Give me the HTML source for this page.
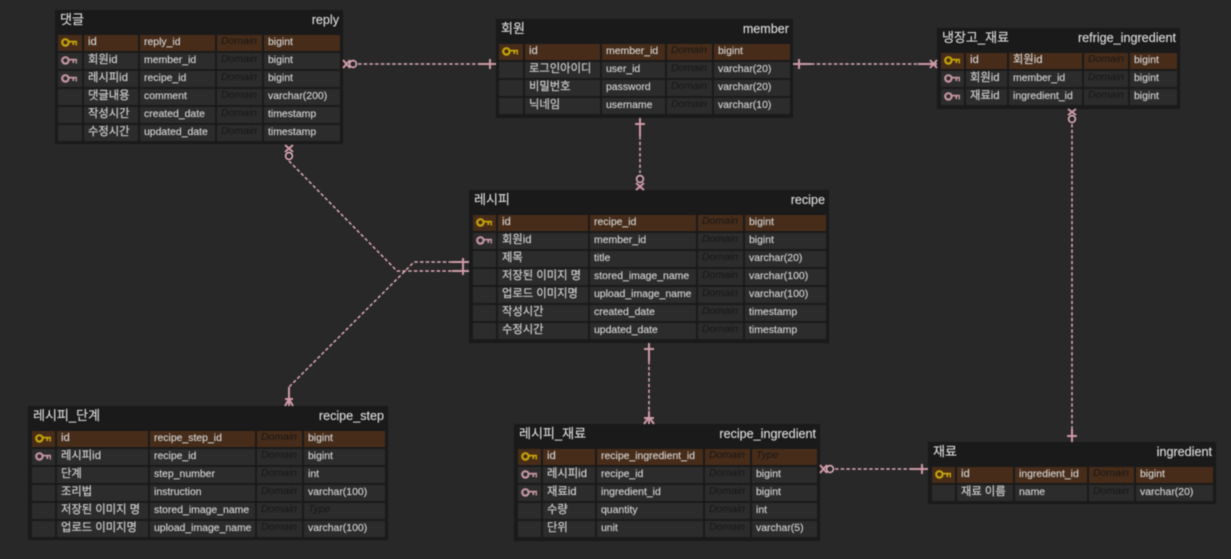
<!DOCTYPE html>
<html lang="ko">
<head>
<meta charset="utf-8">
<title>ERD</title>
<style>
html,body{margin:0;padding:0;background:#282828;}
body{width:1231px;height:559px;overflow:hidden;position:relative;}
#w{position:absolute;left:0;top:0;width:1231px;height:559px;filter:blur(.5px);font-family:"Liberation Sans","Noto Sans CJK KR",sans-serif;color:#d2d2d2;font-size:10.45px;-webkit-text-stroke:.15px #d2d2d2;}
.t{position:absolute;background:#1a1a1a;box-sizing:border-box;}
.h{position:absolute;left:5px;top:1px;font-size:13px;line-height:18px;color:#dcdcdc;white-space:nowrap;}
.e{position:absolute;right:4px;top:1px;font-size:12.6px;line-height:18px;color:#dcdcdc;white-space:nowrap;}
.r{position:absolute;height:16px;display:grid;column-gap:2px;}
.r>div{height:16px;background:#2c2c2c;line-height:15px;padding-left:4px;box-sizing:border-box;white-space:nowrap;overflow:visible;}
.r>div:first-child{padding:0;position:relative;}
.r>div:nth-child(2){font-size:11.3px;line-height:14px;}
.p>div{background:#472c19;}
.r>div.d{color:#171717;-webkit-text-stroke:0;font-style:italic;padding-left:4px;line-height:14px;}
.k{position:absolute;left:3px;top:3px;width:16px;height:9px;}
svg#c{position:absolute;left:0;top:0;}
.s1{grid-template-columns:24px 54px 75px 45px 76px;left:3px;}
.s2{grid-template-columns:24px 75px 63px 45px 76px;left:3px;}
.s3{grid-template-columns:23px 41px 73px 44px 47px;left:4px;}
.s4{grid-template-columns:23px 90px 106px 45px 81px;left:4px;}
.s5{grid-template-columns:23px 91px 105px 45px 81px;left:4px;}
.s6{grid-template-columns:23px 52px 106px 45px 65px;left:4px;}
.s7{grid-template-columns:23px 56px 72px 45px 77px;left:4px;}
</style>
</head>
<body>
<div id="w">
<svg width="0" height="0" style="position:absolute">
<symbol id="ky" viewBox="0 0 16 9"><circle cx="4.4" cy="4.4" r="3.2" fill="none" stroke="#c4a30a" stroke-width="2.2"/><path d="M7.5 3.6H15.5V7.5M12.3 3.6V7" fill="none" stroke="#c4a30a" stroke-width="1.8"/></symbol>
<symbol id="kp" viewBox="0 0 16 9"><circle cx="4.4" cy="4.4" r="3.2" fill="none" stroke="#c294a0" stroke-width="2.2"/><path d="M7.5 3.6H15.5V7.5M12.3 3.6V7" fill="none" stroke="#c294a0" stroke-width="1.8"/></symbol>
</svg>

<!-- reply -->
<div class="t" style="left:55px;top:10px;width:288px;height:134px">
<div class="h">댓글</div><div class="e">reply</div>
<div class="r p s1" style="top:25px"><div><svg class="k"><use href="#ky"/></svg></div><div>id</div><div>reply_id</div><div class="d">Domain</div><div>bigint</div></div>
<div class="r s1" style="top:43px"><div><svg class="k"><use href="#kp"/></svg></div><div>회원id</div><div>member_id</div><div class="d">Domain</div><div>bigint</div></div>
<div class="r s1" style="top:61px"><div><svg class="k"><use href="#kp"/></svg></div><div>레시피id</div><div>recipe_id</div><div class="d">Domain</div><div>bigint</div></div>
<div class="r s1" style="top:79px"><div></div><div>댓글내용</div><div>comment</div><div class="d">Domain</div><div>varchar(200)</div></div>
<div class="r s1" style="top:97px"><div></div><div>작성시간</div><div>created_date</div><div class="d">Domain</div><div>timestamp</div></div>
<div class="r s1" style="top:115px"><div></div><div>수정시간</div><div>updated_date</div><div class="d">Domain</div><div>timestamp</div></div>
</div>

<!-- member -->
<div class="t" style="left:496px;top:19px;width:297px;height:99px">
<div class="h">회원</div><div class="e">member</div>
<div class="r p s2" style="top:25px"><div><svg class="k"><use href="#ky"/></svg></div><div>id</div><div>member_id</div><div class="d">Domain</div><div>bigint</div></div>
<div class="r s2" style="top:43px"><div></div><div>로그인아이디</div><div>user_id</div><div class="d">Domain</div><div>varchar(20)</div></div>
<div class="r s2" style="top:61px"><div></div><div>비밀번호</div><div>password</div><div class="d">Domain</div><div>varchar(20)</div></div>
<div class="r s2" style="top:79px"><div></div><div>닉네임</div><div>username</div><div class="d">Domain</div><div>varchar(10)</div></div>
</div>

<!-- refrige_ingredient -->
<div class="t" style="left:937px;top:28px;width:243px;height:81px">
<div class="h">냉장고_재료</div><div class="e">refrige_ingredient</div>
<div class="r p s3" style="top:25px"><div><svg class="k"><use href="#ky"/></svg></div><div>id</div><div style="font-size:11.3px;line-height:14px">회원id</div><div class="d">Domain</div><div>bigint</div></div>
<div class="r s3" style="top:43px"><div><svg class="k"><use href="#kp"/></svg></div><div>회원id</div><div>member_id</div><div class="d">Domain</div><div>bigint</div></div>
<div class="r s3" style="top:61px"><div><svg class="k"><use href="#kp"/></svg></div><div>재료id</div><div>ingredient_id</div><div class="d">Domain</div><div>bigint</div></div>
</div>

<!-- recipe -->
<div class="t" style="left:469px;top:190px;width:360px;height:153px">
<div class="h">레시피</div><div class="e">recipe</div>
<div class="r p s4" style="top:25px"><div><svg class="k"><use href="#ky"/></svg></div><div>id</div><div>recipe_id</div><div class="d">Domain</div><div>bigint</div></div>
<div class="r s4" style="top:43px"><div><svg class="k"><use href="#kp"/></svg></div><div>회원id</div><div>member_id</div><div class="d">Domain</div><div>bigint</div></div>
<div class="r s4" style="top:61px"><div></div><div>제목</div><div>title</div><div class="d">Domain</div><div>varchar(20)</div></div>
<div class="r s4" style="top:79px"><div></div><div>저장된 이미지 명</div><div>stored_image_name</div><div class="d">Domain</div><div>varchar(100)</div></div>
<div class="r s4" style="top:97px"><div></div><div>업로드 이미지명</div><div>upload_image_name</div><div class="d">Domain</div><div>varchar(100)</div></div>
<div class="r s4" style="top:115px"><div></div><div>작성시간</div><div>created_date</div><div class="d">Domain</div><div>timestamp</div></div>
<div class="r s4" style="top:133px"><div></div><div>수정시간</div><div>updated_date</div><div class="d">Domain</div><div>timestamp</div></div>
</div>

<!-- recipe_step -->
<div class="t" style="left:28px;top:406px;width:360px;height:134px">
<div class="h">레시피_단계</div><div class="e">recipe_step</div>
<div class="r p s5" style="top:25px"><div><svg class="k"><use href="#ky"/></svg></div><div>id</div><div>recipe_step_id</div><div class="d">Domain</div><div>bigint</div></div>
<div class="r s5" style="top:43px"><div><svg class="k"><use href="#kp"/></svg></div><div>레시피id</div><div>recipe_id</div><div class="d">Domain</div><div>bigint</div></div>
<div class="r s5" style="top:61px"><div></div><div>단계</div><div>step_number</div><div class="d">Domain</div><div>int</div></div>
<div class="r s5" style="top:79px"><div></div><div>조리법</div><div>instruction</div><div class="d">Domain</div><div>varchar(100)</div></div>
<div class="r s5" style="top:97px"><div></div><div>저장된 이미지 명</div><div>stored_image_name</div><div class="d">Domain</div><div class="d">Type</div></div>
<div class="r s5" style="top:115px"><div></div><div>업로드 이미지명</div><div>upload_image_name</div><div class="d">Domain</div><div>varchar(100)</div></div>
</div>

<!-- recipe_ingredient -->
<div class="t" style="left:514px;top:424px;width:306px;height:117px">
<div class="h">레시피_재료</div><div class="e">recipe_ingredient</div>
<div class="r p s6" style="top:25px"><div><svg class="k"><use href="#ky"/></svg></div><div>id</div><div>recipe_ingredient_id</div><div class="d">Domain</div><div class="d">Type</div></div>
<div class="r s6" style="top:43px"><div><svg class="k"><use href="#kp"/></svg></div><div>레시피id</div><div>recipe_id</div><div class="d">Domain</div><div>bigint</div></div>
<div class="r s6" style="top:61px"><div><svg class="k"><use href="#kp"/></svg></div><div>재료id</div><div>ingredient_id</div><div class="d">Domain</div><div>bigint</div></div>
<div class="r s6" style="top:79px"><div></div><div>수량</div><div>quantity</div><div class="d">Domain</div><div>int</div></div>
<div class="r s6" style="top:97px"><div></div><div>단위</div><div>unit</div><div class="d">Domain</div><div>varchar(5)</div></div>
</div>

<!-- ingredient -->
<div class="t" style="left:928px;top:442px;width:288px;height:62px">
<div class="h">재료</div><div class="e">ingredient</div>
<div class="r p s7" style="top:25px"><div><svg class="k"><use href="#ky"/></svg></div><div>id</div><div>ingredient_id</div><div class="d">Domain</div><div>bigint</div></div>
<div class="r s7" style="top:43px"><div></div><div>재료 이름</div><div>name</div><div class="d">Domain</div><div>varchar(20)</div></div>
</div>

<svg id="c" width="1231" height="559" viewBox="0 0 1231 559" fill="none">
<g stroke="#dcaab6" stroke-width="1.5" stroke-dasharray="3.5 2.2">
<path d="M358 64H478"/>
<path d="M811 64H918"/>
<path d="M640 136V173"/>
<path d="M289 161L397 271H452"/>
<path d="M452 262H414L289 387"/>
<path d="M649 361V411"/>
<path d="M835 469H910"/>
<path d="M1072 124V429"/>
</g>
<g stroke="#cf9aa7" stroke-width="2">
<!-- reply-member -->
<path d="M478 64H496M490 59V69" />
<path d="M343 60L350 68M343 68L350 60"/>
<!-- member-refrige -->
<path d="M793 64H811M799 59V69"/>
<path d="M918 64H937M930 60L937 68M930 68L937 60"/>
<!-- member-recipe -->
<path d="M640 118V136M635 124H645"/>
<path d="M636 183L644 190M644 183L636 190"/>
<!-- reply-recipe -->
<path d="M285 145L293 152M293 145L285 152"/>
<path d="M452 271H469M463 258V275"/>
<path d="M452 262H469"/>
<!-- recipe_step -->
<path d="M289 387V406M285 399H293M285 406L289 399L293 406"/>
<!-- recipe-ingredient -->
<path d="M649 343V361M644 349H654"/>
<path d="M649 411V424M644 418H654M644 424L649 417L654 424"/>
<!-- ri-ingredient -->
<path d="M820 465L827 473M820 473L827 465"/>
<path d="M910 469H928M922 464V474"/>
<!-- refrige-ingredient -->
<path d="M1068 109L1076 115M1076 109L1068 115"/>
<path d="M1072 429V442M1067 436H1077"/>
</g>
<g stroke="#dcaab6" stroke-width="1.6" fill="#282828">
<circle cx="353" cy="64" r="3.4"/>
<circle cx="640" cy="179" r="3.4"/>
<circle cx="289" cy="156" r="3.4"/>
<circle cx="830" cy="469" r="3.4"/>
<circle cx="1072" cy="119" r="3.4"/>
</g>
</svg>
</div>
</body>
</html>
